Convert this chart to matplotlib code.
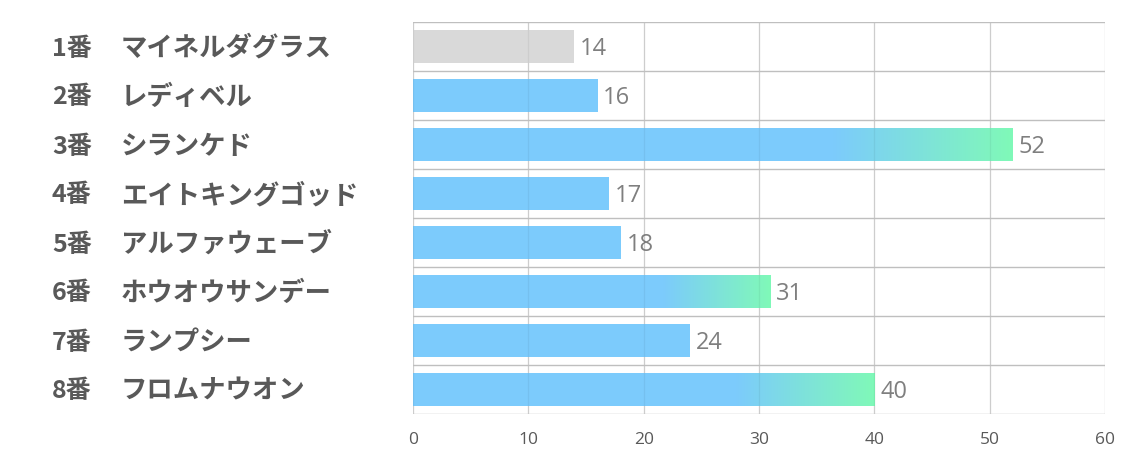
import numpy as np
import matplotlib.pyplot as plt
from matplotlib.colors import LinearSegmentedColormap

plt.rcParams['font.family'] = ['Noto Sans CJK JP', 'DejaVu Sans']

numbers = ["1番", "2番", "3番", "4番", "5番", "6番", "7番", "8番"]
names = ["マイネルダグラス", "レディベル", "シランケド", "エイトキングゴッド",
         "アルファウェーブ", "ホウオウサンデー", "ランプシー", "フロムナウオン"]
values = [14, 16, 52, 17, 18, 31, 24, 40]
bar_colors = ["#d9d9d9", "#7ccbfc", "#7ccbfc", "#7ccbfc",
              "#7ccbfc", "#7ccbfc", "#7ccbfc", "#7ccbfc"]
gradient_rows = [2, 5, 7]  # bars that fade into green
x_ticks = [0, 10, 20, 30, 40, 50, 60]

fig = plt.figure(figsize=(11.34, 4.53), dpi=100)
ax = fig.add_axes([413 / 1134, 1 - 414 / 453, 692 / 1134, 392 / 453])

y = np.arange(len(values))
bar_h = 0.67
ax.barh(y, values, height=bar_h, color=bar_colors, zorder=2)

# gradient tail on the top bars
cmap = LinearSegmentedColormap.from_list("bg", ["#7ccbfc", "#80f9b8"])
grad = np.linspace(0, 1, 256).reshape(1, -1)
for i in gradient_rows:
    v = values[i]
    ax.imshow(grad, cmap=cmap, aspect="auto", interpolation="bilinear",
              extent=[v * 0.7, v, i + bar_h / 2, i - bar_h / 2], zorder=3)

for i, v in enumerate(values):
    ax.text(v + 0.5, i + 0.05, str(v), va="center", ha="left",
            fontsize=17, color="#7f7f7f", family=["Open Sans", "DejaVu Sans"])

ax.set_xlim(0, 60)
ax.set_ylim(len(values) - 0.5, -0.5)
ax.set_xticks(x_ticks)
ax.set_yticks([])
ax.tick_params(axis="x", length=0, pad=13, labelsize=12.5, labelcolor="#595959")
for lab in ax.get_xticklabels():
    lab.set_family(["Open Sans", "DejaVu Sans"])

for xv in x_ticks:
    ax.axvline(xv, color="#d9d9d9", lw=0.9, zorder=1)
    ax.axvline(xv, color="black", alpha=0.05, lw=0.9, zorder=4)
for yb in np.arange(-0.5, len(values), 1.0):
    ax.axhline(yb, color="#bfbfbf", lw=1.0, zorder=4)
for s in ax.spines.values():
    s.set_visible(False)

# left-hand labels
for i in range(len(values)):
    yy = ax.transData.transform((0, i))[1] - 2
    fy = yy / fig.bbox.height
    fig.text(52 / 1134, fy, numbers[i], ha="left", va="center",
             fontsize=18, fontweight="bold", color="#595959")
    fig.text(121 / 1134, fy, names[i], ha="left", va="center",
             fontsize=19, fontweight="bold", color="#595959")

fig.savefig("out.png", dpi=100)
